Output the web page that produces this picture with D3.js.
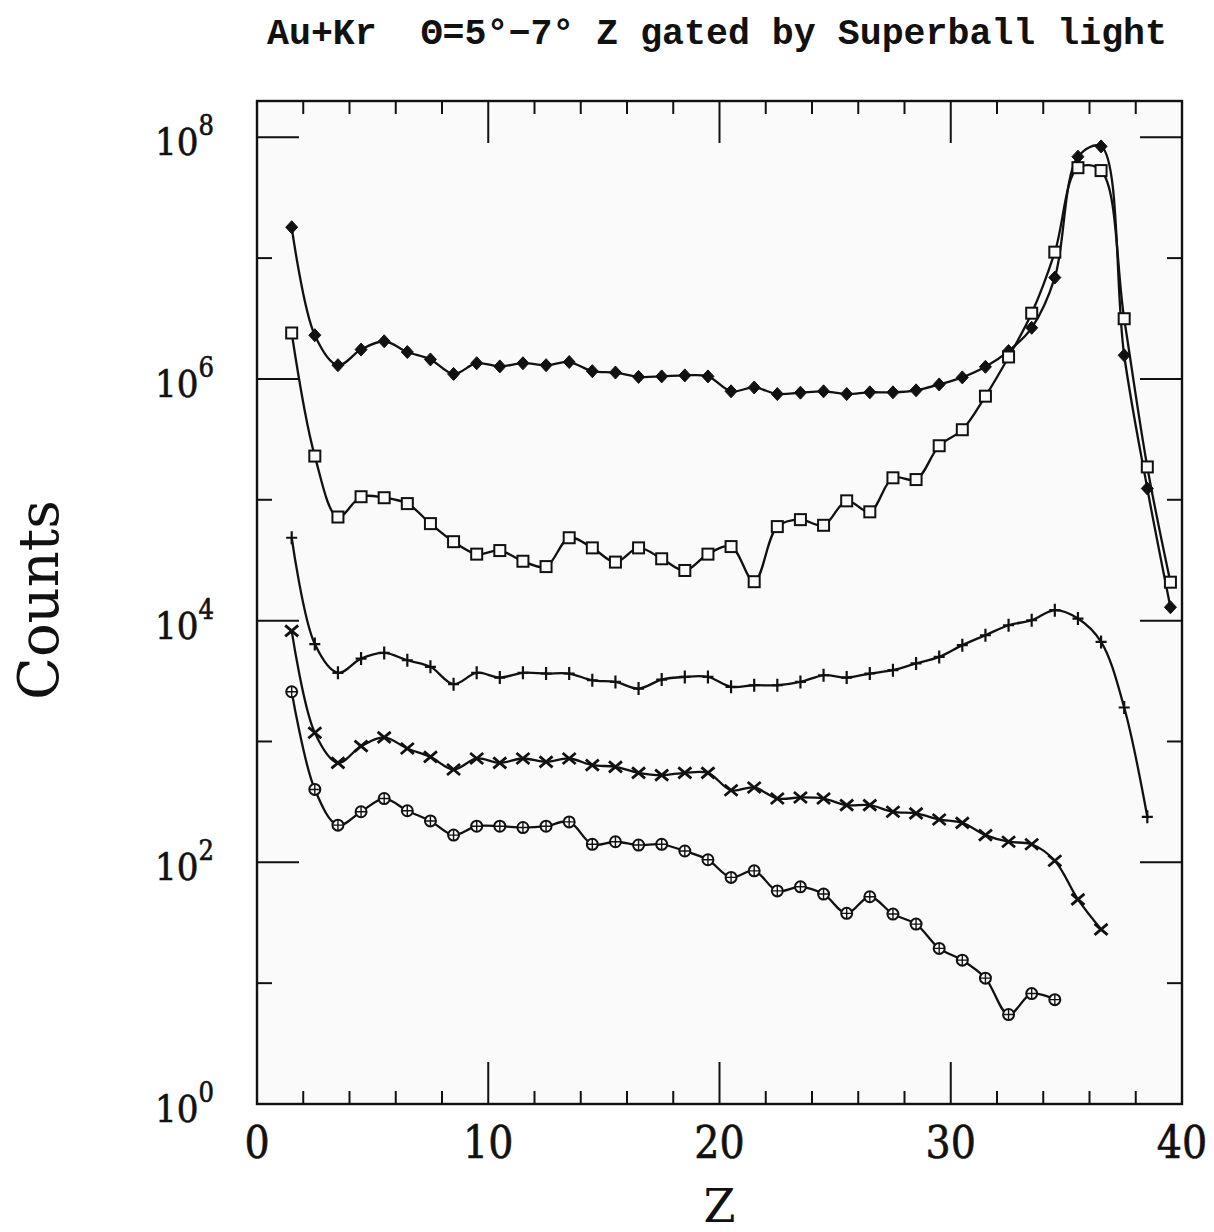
<!DOCTYPE html>
<html>
<head>
<meta charset="utf-8">
<script src="https://cdnjs.cloudflare.com/ajax/libs/d3/7.8.5/d3.min.js"></script>
<style>
	body { margin: 0; background: #fff; }
	svg { display: block; }
</style>
</head>
<body>
<svg id="chart" width="1214" height="1232"></svg>
<script>
// bin centres along Z
var zBins = [1.5, 2.5, 3.5, 4.5, 5.5, 6.5, 7.5, 8.5, 9.5, 10.5, 11.5, 12.5, 13.5,
	14.5, 15.5, 16.5, 17.5, 18.5, 19.5, 20.5, 21.5, 22.5, 23.5, 24.5, 25.5, 26.5,
	27.5, 28.5, 29.5, 30.5, 31.5, 32.5, 33.5, 34.5, 35.5, 36.5, 37.5, 38.5, 39.5];

var diamondCounts = [1.8e7, 2.3e6, 1.3e6, 1.75e6, 2.05e6, 1.67e6, 1.45e6, 1.1e6, 1.35e6,
	1.27e6, 1.35e6, 1.3e6, 1.38e6, 1.16e6, 1.13e6, 1.04e6, 1.05e6, 1.07e6, 1.05e6,
	7.9e5, 8.5e5, 7.5e5, 7.7e5, 7.9e5, 7.5e5, 7.75e5, 7.75e5, 8.05e5, 9.0e5, 1.03e6,
	1.26e6, 1.7e6, 2.65e6, 6.9e6, 6.9e7, 8.4e7, 1.57e6, 1.24e5, 1.29e4];

var squareCounts = [2.4e6, 2.3e5, 7.2e4, 1.06e5, 1.04e5, 9.3e4, 6.35e4, 4.5e4, 3.55e4,
	3.8e4, 3.1e4, 2.8e4, 4.85e4, 4.0e4, 3.05e4, 4.0e4, 3.25e4, 2.6e4, 3.55e4,
	4.1e4, 2.1e4, 6.0e4, 6.85e4, 6.15e4, 9.8e4, 7.95e4, 1.52e5, 1.47e5, 2.8e5, 3.8e5,
	7.2e5, 1.52e6, 3.5e6, 1.12e7, 5.6e7, 5.3e7, 3.15e6, 1.87e5, 2.08e4];

var plusCounts = [4.85e4, 6400, 3700, 4850, 5400, 4700, 4150, 2980, 3700, 3380, 3700,
	3650, 3650, 3210, 3110, 2740, 3250, 3420, 3420, 2830, 2920, 2920, 3110, 3530,
	3380, 3650, 3890, 4420, 5010, 6270, 7570, 9160, 10070, 12200, 10400, 6670, 1910, 238];

var crossCounts = [8220, 1180, 665, 914, 1080, 875, 746, 586, 723, 665, 723, 678, 723,
	637, 617, 550, 526, 550, 550, 395, 416, 337, 344, 337, 297, 297, 262, 254, 226,
	212, 168, 148, 141, 103, 49.3, 27.9];

var circleCounts = [2580, 401, 203, 262, 337, 267, 220, 168, 199, 199, 194, 199, 216,
	141, 148, 139, 141, 124, 105, 75, 85, 58, 62.7, 54.6, 37.8, 51.9, 37.3, 30.8,
	19.4, 15.5, 11.0, 5.5, 8.2, 7.3];

var xTickLabels = [0, 10, 20, 30, 40];
var yTickExponents = [0, 2, 4, 6, 8];
var titleText = 'Au+Kr \u00a0\u0398=5\u00b0\u22127\u00b0 Z gated by Superball light';

var svg = d3.select('#chart'),
	plotLeft = 257, plotRight = 1182, plotTop = 101, plotBottom = 1104;

var x = d3.scaleLinear().domain([0, 40]).range([plotLeft, plotRight]);
var y = d3.scaleLog().domain([1, Math.pow(10, 8.3)]).range([plotBottom, plotTop]);

svg.append('rect')
	.attr('x', plotLeft).attr('y', plotTop)
	.attr('width', plotRight - plotLeft).attr('height', plotBottom - plotTop)
	.style('fill', '#fafafa');

/* ticks, drawn inward on all four sides */
var ticks = svg.append('g').style('stroke', '#111').style('stroke-width', 2);

d3.range(2, 40, 2).forEach(function (v) {
	var len = v % 10 === 0 ? 42 : 13;
	ticks.append('line')
		.attr('x1', x(v)).attr('x2', x(v))
		.attr('y1', plotBottom).attr('y2', plotBottom - len);
	ticks.append('line')
		.attr('x1', x(v)).attr('x2', x(v))
		.attr('y1', plotTop).attr('y2', plotTop + len);
});

d3.range(1, 9).forEach(function (e) {
	var len = e % 2 === 0 ? 42 : 15,
		yy = y(Math.pow(10, e));
	ticks.append('line')
		.attr('x1', plotLeft).attr('x2', plotLeft + len)
		.attr('y1', yy).attr('y2', yy);
	ticks.append('line')
		.attr('x1', plotRight).attr('x2', plotRight - len)
		.attr('y1', yy).attr('y2', yy);
});

svg.append('rect')
	.attr('x', plotLeft).attr('y', plotTop)
	.attr('width', plotRight - plotLeft).attr('height', plotBottom - plotTop)
	.style('fill', 'none')
	.style('stroke', '#111')
	.style('stroke-width', 2.4);

/* tick labels */
svg.append('g').selectAll('text')
	.data(xTickLabels)
	.enter().append('text')
		.attr('x', function (d) { return x(d); })
		.attr('y', 1158)
		.attr('text-anchor', 'middle')
		.style('font-family', '"DejaVu Serif Condensed", "DejaVu Serif", serif')
		.style('font-size', '44px')
		.style('fill', '#111')
		.style('stroke', '#111')
		.style('stroke-width', 0.6)
		.text(function (d) { return d; });

var yLabels = svg.append('g')
	.style('font-family', '"DejaVu Serif Condensed", "DejaVu Serif", serif')
	.style('fill', '#111')
	.style('stroke', '#111')
	.style('stroke-width', 0.6);

yTickExponents.forEach(function (e) {
	var t = yLabels.append('text')
		.attr('x', 155)
		.attr('y', y(Math.pow(10, e)) + 18)
		.style('font-size', '38px');
	t.append('tspan').text('10');
	t.append('tspan')
		.attr('dy', -20)
		.style('font-size', '27px')
		.text(e);
});

/* axis titles */
svg.append('text')
	.attr('transform', 'translate(58,600) rotate(-90)')
	.attr('text-anchor', 'middle')
	.style('font-family', '"DejaVu Serif", serif')
	.style('font-size', '56px')
	.style('fill', '#111')
	.text('Counts');

svg.append('text')
	.attr('x', x(20))
	.attr('y', 1222)
	.attr('text-anchor', 'middle')
	.style('font-family', '"DejaVu Serif", serif')
	.style('font-size', '46px')
	.style('fill', '#111')
	.text('Z');

svg.append('text')
	.attr('x', 267)
	.attr('y', 44)
	.attr('textLength', 900)
	.attr('lengthAdjust', 'spacingAndGlyphs')
	.style('font-family', '"Liberation Mono", "DejaVu Sans Mono", monospace')
	.style('font-weight', 'bold')
	.style('font-size', '37px')
	.style('fill', '#111')
	.text(titleText);

/* series */
var line = d3.line()
	.x(function (d) { return x(d.z); })
	.y(function (d) { return y(d.c); })
	.curve(d3.curveCatmullRom.alpha(0.5));

function toPoints(counts) {
	return counts.map(function (c, i) { return { z: zBins[i], c: c }; });
}

var series = [
	{ name: 'diamond', counts: diamondCounts },
	{ name: 'square', counts: squareCounts },
	{ name: 'plus', counts: plusCounts },
	{ name: 'cross', counts: crossCounts },
	{ name: 'circle', counts: circleCounts }
];

var plot = svg.append('g');

series.forEach(function (s) {
	var pts = toPoints(s.counts);

	plot.append('path')
		.datum(pts)
		.attr('d', line)
		.style('fill', 'none')
		.style('stroke', '#111')
		.style('stroke-width', 2.3);

	var marks = plot.append('g').selectAll('g')
		.data(pts)
		.enter().append('g')
			.attr('transform', function (d) { return 'translate(' + [x(d.z), y(d.c)] + ')'; })
			.style('stroke', '#111');

	if (s.name === 'diamond') {
		marks.append('path')
			.attr('d', 'M0,-6.5L6,0L0,6.5L-6,0Z')
			.style('fill', '#111')
			.style('stroke-width', 1);
	} else if (s.name === 'square') {
		marks.append('rect')
			.attr('x', -5.5).attr('y', -5.5)
			.attr('width', 11).attr('height', 11)
			.style('fill', '#fafafa')
			.style('stroke-width', 2);
	} else if (s.name === 'plus') {
		marks.append('path')
			.attr('d', 'M-5.5,0H5.5M0,-6.5V6.5')
			.style('stroke-width', 2.2);
	} else if (s.name === 'cross') {
		marks.append('path')
			.attr('d', 'M-6.5,-5.5L6.5,5.5M-6.5,5.5L6.5,-5.5')
			.style('stroke-width', 2.8);
	} else {
		marks.append('circle')
			.attr('r', 5.5)
			.style('fill', '#fafafa')
			.style('stroke-width', 2);
		marks.append('path')
			.attr('d', 'M-5.5,0H5.5M0,-5.5V5.5')
			.style('stroke-width', 1.4);
	}
});
</script>
</body>
</html>
